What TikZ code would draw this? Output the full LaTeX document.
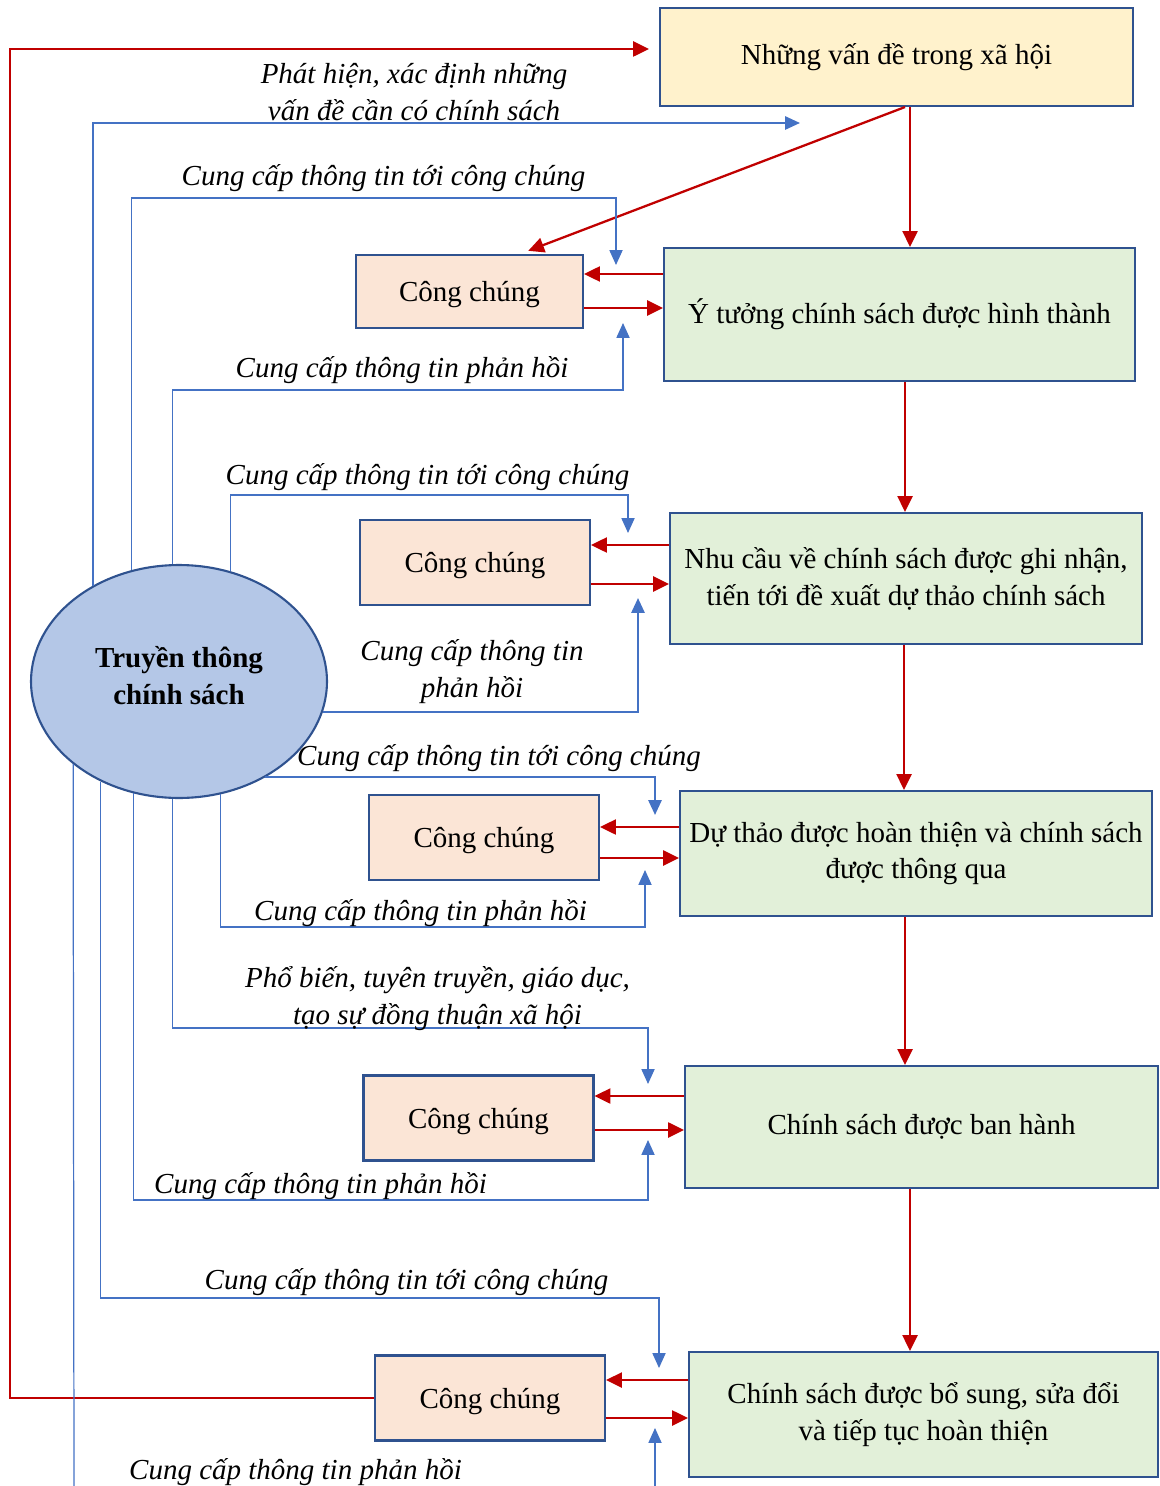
\documentclass[tikz,border=0pt]{standalone}
\usepackage{fontspec}
\setmainfont{Liberation Serif}
\usetikzlibrary{arrows.meta,shapes.geometric}
\definecolor{redline}{HTML}{C00000}
\definecolor{blueline}{HTML}{4472C4}
\definecolor{boxedge}{HTML}{2F528F}
\definecolor{issuefill}{HTML}{FFF2CC}
\definecolor{stagefill}{HTML}{E2F0D9}
\definecolor{publicfill}{HTML}{FBE5D6}
\definecolor{commfill}{HTML}{B4C7E7}
\newcommand{\diagsize}{\fontsize{16.5}{21}\selectfont}
\tikzstyle{stagebox}=[rectangle,draw=boxedge,fill=stagefill,line width=1.2pt,
                      inner sep=0pt,align=center,font=\diagsize]
\tikzstyle{issuebox}=[stagebox,fill=issuefill]
\tikzstyle{publicbox}=[stagebox,fill=publicfill,text depth=0pt,
                       minimum width=4.6cm,minimum height=1.7cm]
\tikzstyle{commcircle}=[ellipse,draw=boxedge,fill=commfill,line width=1.2pt,
                        inner sep=0pt,align=center,font=\diagsize\bfseries,
                        text depth=7pt,minimum width=5.92cm,minimum height=4.66cm]
\tikzstyle{redarrow}=[draw=redline,line width=1.3pt,
                      -{Triangle[length=9pt,width=8.5pt]}]
\tikzstyle{bluethin}=[draw=blueline,line width=0.7pt,
                      -{Triangle[length=8.5pt,width=7.5pt]}]
\tikzstyle{bluethick}=[bluethin,line width=1.3pt]
\tikzstyle{note}=[font=\diagsize\itshape,align=center,inner sep=0pt]

\begin{document}
\begin{tikzpicture}[x=0.02cm,y=-0.02cm]
    \useasboundingbox (0,0) rectangle (1159,1486);
    \node (issues) at (896.5,57) [issuebox,minimum width=9.46cm,minimum height=1.96cm]
          {Những vấn đề trong xã hội};
    \node (idea) at (899.5,314.5) [stagebox,minimum width=9.42cm,minimum height=2.66cm]
          {Ý tưởng chính sách được hình thành};
    \node (need) at (906,578.5) [stagebox,minimum width=9.44cm,minimum height=2.62cm]
          {Nhu cầu về chính sách được ghi nhận,\\tiến tới đề xuất dự thảo chính sách};
    \node (draft) at (916,853.5) [stagebox,minimum width=9.44cm,minimum height=2.5cm]
          {Dự thảo được hoàn thiện và chính sách\\được thông qua};
    \node (issued) at (921.5,1127) [stagebox,minimum width=9.46cm,minimum height=2.44cm]
          {Chính sách được ban hành};
    \node (revised) at (923.5,1414.5) [stagebox,minimum width=9.38cm,minimum height=2.5cm]
          {Chính sách được bổ sung, sửa đổi\\và tiếp tục hoàn thiện};
    \node (cc1) at (469.5,291.5) [publicbox,minimum width=4.54cm,minimum height=1.46cm]{Công chúng};
    \node (cc2) at (475,562.5) [publicbox]{Công chúng};
    \node (cc3) at (484,837.5) [publicbox]{Công chúng};
    \node (cc4) at (478.5,1118) [publicbox]{Công chúng};
    \node (cc5) at (490,1398) [publicbox]{Công chúng};
    \node (tt) at (179,681.5) [commcircle]{Truyền thông\\chính sách};

    \draw[redarrow,shorten >=5.7pt] (cc5.west) -| (10,49) -- (issues.west |- 0,49);
    \draw[redarrow,shorten >=5pt] (issues.south -| 905,0) -- (cc1.north -| 520,0);
    \draw[redarrow] (issues.south -| 910,0) -- (idea.north -| 910,0);
    \draw[redarrow] (idea.west |- 0,274) -- (cc1.east |- 0,274);
    \draw[redarrow] (cc1.east |- 0,308) -- (idea.west |- 0,308);
    \draw[redarrow] (idea.south -| 905,0) -- (need.north -| 905,0);
    \draw[redarrow] (need.west |- 0,545) -- (cc2.east |- 0,545);
    \draw[redarrow] (cc2.east |- 0,584) -- (need.west |- 0,584);
    \draw[redarrow] (need.south -| 904,0) -- (draft.north -| 904,0);
    \draw[redarrow] (draft.west |- 0,827) -- (cc3.east |- 0,827);
    \draw[redarrow] (cc3.east |- 0,858) -- (draft.west |- 0,858);
    \draw[redarrow] (draft.south -| 905,0) -- (issued.north -| 905,0);
    \draw[redarrow] (issued.west |- 0,1096) -- (cc4.east |- 0,1096);
    \draw[redarrow] (cc4.east |- 0,1130) -- (issued.west |- 0,1130);
    \draw[redarrow] (issued.south -| 910,0) -- (revised.north -| 910,0);
    \draw[redarrow] (revised.west |- 0,1380) -- (cc5.east |- 0,1380);
    \draw[redarrow] (cc5.east |- 0,1418) -- (revised.west |- 0,1418);

    \coordinate (pA) at (800,123);
    \coordinate (pB) at (616,265);
    \coordinate (pC) at (623,323);
    \coordinate (pD) at (628,533);
    \coordinate (pE) at (638,598);
    \coordinate (pF) at (655,815);
    \coordinate (pG) at (645,870);
    \coordinate (pH) at (648,1084);
    \coordinate (pI) at (648,1140);
    \coordinate (pJ) at (659,1368);
    \coordinate (pK) at (655,1428);
    \coordinate (kEnd) at (74,1486);
    \coordinate (kStart) at (655,1486);
    \draw[bluethick] (tt.132.2) |- (pA);
    \draw[bluethin] (tt.113.5) |- (616,198) -- (pB);
    \draw[bluethin] (tt.93.4) |- (623,390) -- (pC);
    \draw[bluethin] (tt.65.5) |- (628,495) -- (pD);
    \draw[bluethick] (tt.-12.5) -| (pE);
    \draw[bluethick] (tt.-48.4) -| (pF);
    \draw[bluethin] (tt.-70.4) |- (645,927) -- (pG);
    \draw[bluethin] (tt.-93) |- (648,1028) -- (pH);
    \draw[bluethin] (tt.-112.6) |- (648,1200) -- (pI);
    \draw[bluethin] (tt.-128.7) |- (659,1298) -- (pJ);
    \draw[bluethin,-] (tt.-142) -- (kEnd);
    \draw[bluethin] (kStart) -- (pK);

    \node (lblA) at (414,92) [note]{Phát hiện, xác định những\\vấn đề cần có chính sách};
    \node (lblB) at (383.5,178) [note]{Cung cấp thông tin tới công chúng};
    \node (lblC) at (402,370) [note]{Cung cấp thông tin phản hồi};
    \node (lblD) at (427.5,477) [note]{Cung cấp thông tin tới công chúng};
    \node (lblE) at (472,672) [note]{Cung cấp thông tin\\phản hồi};
    \node (lblF) at (499,758) [note]{Cung cấp thông tin tới công chúng};
    \node (lblG) at (420.5,913) [note]{Cung cấp thông tin phản hồi};
    \node (lblH) at (437.5,999) [note]{Phổ biến, tuyên truyền, giáo dục,\\tạo sự đồng thuận xã hội};
    \node (lblI) at (320.5,1186) [note]{Cung cấp thông tin phản hồi};
    \node (lblJ) at (406.5,1282) [note]{Cung cấp thông tin tới công chúng};
    \node (lblK) at (295.5,1472) [note]{Cung cấp thông tin phản hồi};
\end{tikzpicture}
\end{document}
